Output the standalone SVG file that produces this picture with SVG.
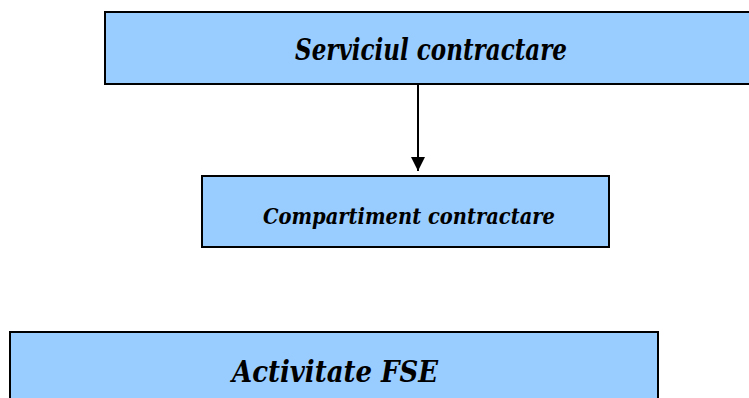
<svg xmlns="http://www.w3.org/2000/svg" width="749" height="398" viewBox="0 0 749 398">
<style>
.box{fill:#99CCFF;stroke:#000;stroke-width:2}
.lbl{font-style:italic;font-weight:bold;fill:#000;text-anchor:middle}
.conn{stroke:#000;stroke-width:2;fill:none}
</style>
<defs>
<marker id="arr" markerWidth="14" markerHeight="14" refX="14" refY="7" orient="auto" markerUnits="userSpaceOnUse">
<path d="M0,0 L14,7 L0,14 Z" fill="#000"/>
</marker>
</defs>
<g id="node-serviciul">
<rect class="box" x="105" y="12" width="650" height="72"/>
<text class="lbl" font-family="DejaVu Serif, serif" x="431" y="60" font-size="30" textLength="272" lengthAdjust="spacingAndGlyphs">Serviciul contractare</text>
</g>
<g id="node-compartiment">
<rect class="box" x="202" y="176" width="407" height="71"/>
<text class="lbl" font-family="DejaVu Serif, serif" x="409" y="224" font-size="23" textLength="292" lengthAdjust="spacingAndGlyphs">Compartiment contractare</text>
</g>
<g id="node-activitate">
<rect class="box" x="10" y="332" width="648" height="80"/>
<text class="lbl" font-family="DejaVu Serif, serif" x="335" y="382" font-size="30" textLength="206" lengthAdjust="spacingAndGlyphs">Activitate FSE</text>
</g>
<g id="connectors">
<line class="conn" x1="418" y1="84" x2="418" y2="171" marker-end="url(#arr)"/>
</g>
</svg>
